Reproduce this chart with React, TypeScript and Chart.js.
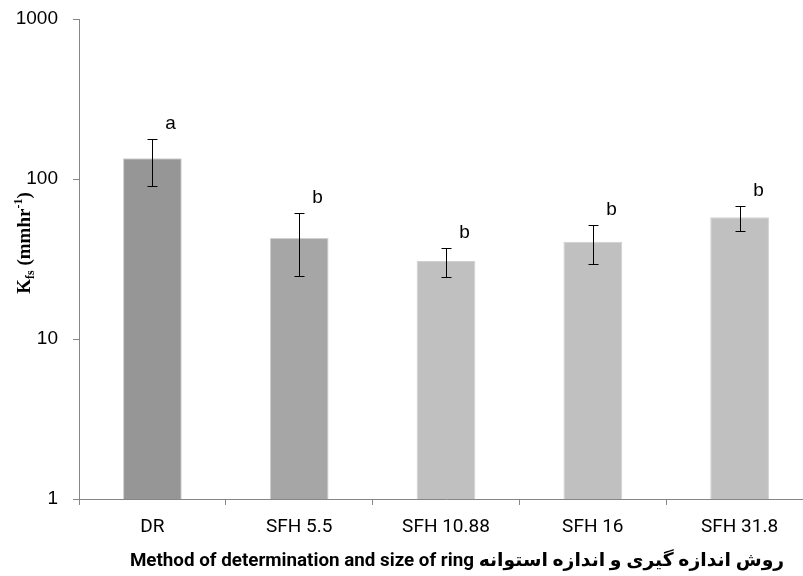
import React, { useEffect, useRef } from "react";
import { Chart, registerables } from "chart.js";

Chart.register(...registerables);

const categories = ["DR", "SFH 5.5", "SFH 10.88", "SFH 16", "SFH 31.8"];
const means = [135, 42.8, 30.7, 40.6, 57.7];
const errHigh = [178, 61.3, 37.2, 51.4, 67.8];
const errLow = [90.4, 24.8, 24.4, 29.6, 47];
const letters = ["a", "b", "b", "b", "b"];
const barColors = ["#969696", "#a6a6a6", "#c0c0c0", "#c0c0c0", "#c0c0c0"];
const yTicks = [1, 10, 100, 1000];
const xTitle = "Method of determination and size of ring روش اندازه گیری و اندازه استوانه";

const errorPlugin = {
  id: "errorBars",
  afterDatasetsDraw(chart: any) {
    const ctx = chart.ctx;
    const meta = chart.getDatasetMeta(0);
    const y = chart.scales.y;
    ctx.save();
    ctx.strokeStyle = "#000";
    ctx.lineWidth = 1;
    meta.data.forEach((bar: any, i: number) => {
      const x = Math.round(bar.x) + 0.5;
      const yh = Math.round(y.getPixelForValue(errHigh[i])) + 0.5;
      const yl = Math.round(y.getPixelForValue(errLow[i])) + 0.5;
      ctx.beginPath();
      ctx.moveTo(x, yh);
      ctx.lineTo(x, yl);
      ctx.moveTo(x - 5, yh);
      ctx.lineTo(x + 5, yh);
      ctx.moveTo(x - 5, yl);
      ctx.lineTo(x + 5, yl);
      ctx.stroke();
      ctx.fillStyle = "#000";
      ctx.font = "19px 'Liberation Sans', Arial, sans-serif";
      ctx.textAlign = "center";
      ctx.textBaseline = "middle";
      ctx.fillText(letters[i], x + 18, yh - 16);
    });
    ctx.restore();
  },
};

const titlePlugin = {
  id: "titles",
  afterDraw(chart: any) {
    const ctx = chart.ctx;
    ctx.save();
    // y title
    ctx.translate(30, 243);
    ctx.rotate(-Math.PI / 2);
    const big = "bold 19px 'Liberation Serif', 'Times New Roman', serif";
    const small = "bold 12px 'Liberation Serif', 'Times New Roman', serif";
    const parts: [string, string, number][] = [
      ["K", big, 0],
      ["fs", small, 4],
      [" (mmhr", big, 0],
      ["-1", small, -8],
      [")", big, 0],
    ];
    let total = 0;
    parts.forEach(([t, f]) => {
      ctx.font = f;
      total += ctx.measureText(t).width;
    });
    let cx = -total / 2;
    ctx.fillStyle = "#000";
    ctx.textBaseline = "alphabetic";
    ctx.textAlign = "left";
    parts.forEach(([t, f, dy]) => {
      ctx.font = f;
      ctx.fillText(t, cx, 0 + dy);
      cx += ctx.measureText(t).width;
    });
    ctx.restore();

    // x title
    ctx.save();
    ctx.fillStyle = "#000";
    ctx.font = "bold 18.8px Roboto, 'DejaVu Sans', sans-serif";
    ctx.textAlign = "center";
    ctx.textBaseline = "alphabetic";
    ctx.direction = "ltr";
    ctx.fillText(xTitle, 457, 566);
    ctx.restore();
  },
};

export default function App() {
  const ref = useRef<HTMLCanvasElement>(null);
  useEffect(() => {
    document.body.style.margin = "0";
    const chart = new Chart(ref.current!, {
      type: "bar",
      data: {
        labels: categories,
        datasets: [
          {
            data: means,
            backgroundColor: barColors,
            borderColor: "#d0d0d0",
            borderWidth: 1,
            barPercentage: 0.4,
            categoryPercentage: 1,
          },
        ],
      },
      options: {
        responsive: false,
        animation: false,
        layout: { padding: { top: 19, right: 17, left: 0, bottom: 0 } },
        plugins: { legend: { display: false }, tooltip: { enabled: false } },
        scales: {
          x: {
            afterFit: (s: any) => {
              s.height = 77;
              s.paddingLeft = 0;
              s.paddingRight = 0;
            },
            grid: {
              display: true,
              drawOnChartArea: false,
              drawTicks: true,
              tickLength: 6,
              offset: true,
              color: "#868686",
            },
            border: { display: true, color: "#868686", width: 1 },
            ticks: {
              color: "#000",
              padding: 11,
              maxRotation: 0,
              font: { family: "Roboto, sans-serif", size: 19 },
            },
          },
          y: {
            type: "logarithmic",
            min: 1,
            max: 1000,
            afterFit: (s: any) => {
              s.width = 79;
              s.paddingTop = 0;
              s.paddingBottom = 0;
            },
            afterBuildTicks: (s: any) => {
              s.ticks = yTicks.map((v) => ({ value: v }));
            },
            grid: {
              display: true,
              drawOnChartArea: false,
              drawTicks: true,
              tickLength: 6,
              color: "#868686",
            },
            border: { display: true, color: "#868686", width: 1 },
            ticks: {
              color: "#000",
              padding: 15,
              font: { family: "'Liberation Sans', Arial, sans-serif", size: 19 },
              callback: (v: any) => String(v),
            },
          },
        },
      },
      plugins: [errorPlugin, titlePlugin],
    });
    return () => chart.destroy();
  }, []);
  return (
    <div style={{ position: "fixed", left: 0, top: 0, width: 803, height: 576, overflow: "hidden", background: "#fff" }}>
      <canvas ref={ref} width={830} height={576} style={{ width: 830, height: 576, display: "block" }} />
    </div>
  );
}
